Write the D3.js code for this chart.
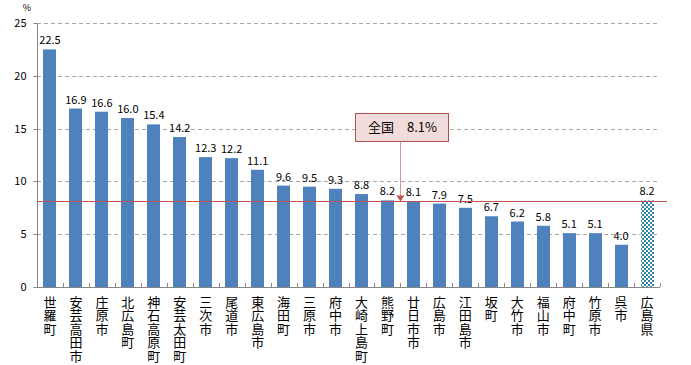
<!DOCTYPE html>
<html><head><meta charset="utf-8">
<script src="https://cdn.jsdelivr.net/npm/d3@7"></script>
<style>body{margin:0;background:#fff}svg{display:block}</style>
</head><body>
<script>
const categories = ["世羅町","安芸高田市","庄原市","北広島町","神石高原町","安芸太田町","三次市","尾道市","東広島市","海田町","三原市","府中市","大崎上島町","熊野町","廿日市市","広島市","江田島市","坂町","大竹市","福山市","府中町","竹原市","呉市","広島県"];
const values = [22.5,16.9,16.6,16.0,15.4,14.2,12.3,12.2,11.1,9.6,9.5,9.3,8.8,8.2,8.1,7.9,7.5,6.7,6.2,5.8,5.1,5.1,4.0,8.2];
const yTicks = [0,5,10,15,20,25];
const nationalValue = 8.1;
const nationalLabel = "全国　8.1%";

(function(){
const W = 691, H = 365;
const svg = d3.select("body").append("svg").attr("width", W).attr("height", H);
const pL = 37, pR = 660, pT = 23, pB = 287;
const font = "'Noto Sans CJK JP', 'DejaVu Sans', sans-serif";

const x = d3.scaleBand().domain(categories).range([pL, pR]).paddingInner(0.5).paddingOuter(0.25);
const y = d3.scaleLinear().domain([0, 25]).range([pB, pT]);

const defs = svg.append("defs");
const pat = defs.append("pattern").attr("id","chk").attr("patternUnits","userSpaceOnUse").attr("width",4).attr("height",4);
pat.append("rect").attr("width",4).attr("height",4).attr("fill","#ffffff");
pat.append("rect").attr("width",2).attr("height",2).attr("fill","#31859c");
pat.append("rect").attr("x",2).attr("y",2).attr("width",2).attr("height",2).attr("fill","#31859c");

// grid
svg.append("g").selectAll("line").data(yTicks.filter(d=>d>0)).join("line")
  .attr("x1", pL).attr("x2", pR).attr("y1", d=>Math.round(y(d))+0.5).attr("y2", d=>Math.round(y(d))+0.5)
  .attr("stroke", "#a6a6a6").attr("stroke-dasharray","4,3").attr("stroke-width",1);

// y axis
const ya = svg.append("g").attr("transform", `translate(${pL+0.5},0)`)
  .call(d3.axisLeft(y).tickValues(yTicks).tickSize(4).tickPadding(4));
ya.select(".domain").attr("stroke","#868686").attr("d", `M0,${Math.round(pT)+0.5}V${pB+0.5}`);
ya.selectAll(".tick line").attr("stroke","#868686");
ya.selectAll(".tick text").attr("font-family", font).attr("font-size", 11).attr("fill","#000").attr("dx","-3");
ya.selectAll(".tick").attr("transform", d => `translate(0,${Math.round(y(d))+0.5})`);

svg.append("text").attr("x", 31).attr("y", 11).attr("text-anchor","end")
  .attr("font-family", font).attr("font-size", 9).text("%");

// bars
svg.append("g").selectAll("rect").data(categories).join("rect")
  .attr("x", d=>Math.round(x(d))).attr("width", Math.round(x.bandwidth()))
  .attr("y", (d,i)=>y(values[i])).attr("height", (d,i)=>pB - y(values[i]))
  .attr("fill", (d,i)=> i===categories.length-1 ? "url(#chk)" : "#4f81bd");

// x axis
svg.append("line").attr("x1", pL).attr("x2", pR).attr("y1", pB+0.5).attr("y2", pB+0.5).attr("stroke","#868686");
const tickXs = d3.range(categories.length+1).map(i => pL + i*(pR-pL)/categories.length);
svg.append("g").selectAll("line").data(tickXs).join("line")
  .attr("x1", d=>Math.round(d)+0.5).attr("x2", d=>Math.round(d)+0.5).attr("y1", pB-4).attr("y2", pB)
  .attr("stroke","#868686");

// value labels
svg.append("g").selectAll("text").data(categories).join("text")
  .attr("x", d=>x(d)+x.bandwidth()/2).attr("y", (d,i)=>y(values[i])-5)
  .attr("text-anchor","middle").attr("font-family", font).attr("font-size", 11)
  .text((d,i)=>values[i].toFixed(1));

// category labels vertical, one character per line
const cl = svg.append("g").selectAll("g").data(categories).join("g")
  .attr("transform", d=>`translate(${x(d)+x.bandwidth()/2},0)`);
cl.each(function(d){
  const g = d3.select(this);
  Array.from(d).forEach((ch, k) => {
    g.append("text").attr("x",0).attr("y", 307 + k*13.4).attr("text-anchor","middle")
      .attr("font-family", font).attr("font-size", 13).text(ch);
  });
});

// national line
const ny = Math.round(y(nationalValue)) + 0.5;
svg.append("line").attr("x1", pL).attr("x2", 667).attr("y1", ny).attr("y2", ny)
  .attr("stroke","#c0504d").attr("stroke-width",1);

// annotation
const bx = 355, by = 113, bw = 93, bh = 28;
const ax = 400;
svg.append("line").attr("x1", ax+0.5).attr("x2", ax+0.5).attr("y1", by+bh).attr("y2", ny-2)
  .attr("stroke","#d99694").attr("stroke-width",1);
svg.append("path").attr("d", `M${ax-3.5},${ny-6}L${ax+0.5},${ny}L${ax+4.5},${ny-6}Z`)
  .attr("fill","#c0504d");
svg.append("rect").attr("x", bx+0.5).attr("y", by+0.5).attr("width", bw).attr("height", bh)
  .attr("fill","#f2dcdb").attr("stroke","#b0504d");
svg.append("text").attr("x", bx+bw/2+1).attr("y", by+19).attr("text-anchor","middle")
  .attr("font-family", font).attr("font-size", 13).text(nationalLabel);
})();
</script>
</body></html>
